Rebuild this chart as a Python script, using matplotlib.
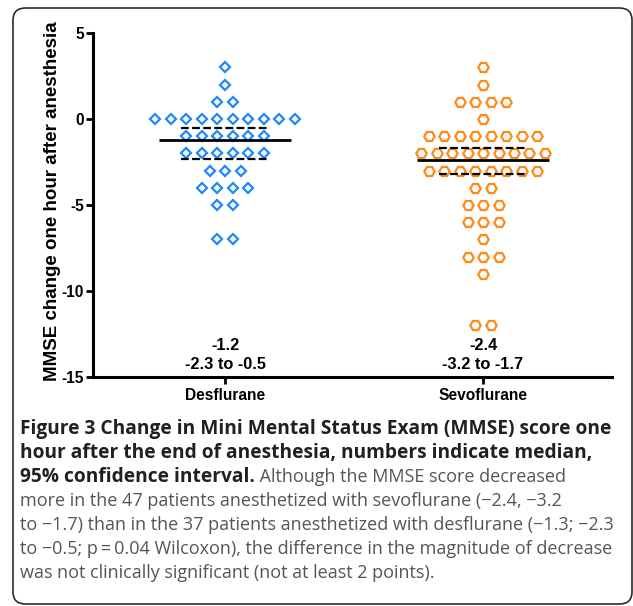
import numpy as np
import matplotlib
matplotlib.use('Agg')
import matplotlib.pyplot as plt
from matplotlib.patches import FancyBboxPatch

plt.rcParams['axes.unicode_minus'] = False
plt.rcParams['font.family'] = ['Liberation Sans', 'DejaVu Sans']

# MMSE change scores and how many patients had each score
groups = ['Desflurane', 'Sevoflurane']
des_scores = [3, 2, 1, 0, -1, -2, -3, -4, -5, -7]
des_counts = [1, 1, 2, 10, 6, 6, 3, 4, 2, 2]
sevo_scores = [3, 2, 1, 0, -1, -2, -3, -4, -5, -6, -7, -8, -9, -12]
sevo_counts = [1, 1, 4, 1, 8, 9, 8, 2, 3, 3, 1, 3, 1, 2]

# median and 95% CI
medians = [-1.2, -2.4]
ci_low = [-2.3, -3.2]
ci_high = [-0.5, -1.7]

W, H = 633, 606
fig = plt.figure(figsize=(W / 100, H / 100), dpi=100)

# rounded frame around figure + caption
frame = FancyBboxPatch((13 / W, 1 - 604 / H), (632 - 13) / W, (604 - 8) / H,
                       boxstyle='round,pad=0,rounding_size=0.02',
                       transform=fig.transFigure, fc='none', ec='#2b2b2b',
                       lw=1.2, zorder=0)
fig.patches.append(frame)

ax = fig.add_axes([93 / W, 1 - 377 / H, (612 - 93) / W, (377 - 33) / H])
ax.patch.set_alpha(0)

step = 0.06


def swarm(xc, scores, counts, marker, color, ms):
    for s, n in zip(scores, counts):
        xs = xc + (np.arange(n) - (n - 1) / 2) * step
        ax.plot(xs, [s] * n, linestyle='none', marker=marker, ms=ms,
                mfc='white', mec=color, mew=1.6, zorder=3)


swarm(1, des_scores, des_counts, 'D', '#1e88ff', 5.5)
swarm(2, sevo_scores, sevo_counts, 'H', '#ff8a17', 7.5)

for i in range(2):
    xc = i + 1
    ax.hlines(medians[i], xc - 0.255, xc + 0.255, colors='black', lw=2, zorder=4)
    for v in (ci_low[i], ci_high[i]):
        ax.hlines(v, xc - 0.17, xc + 0.17, colors='black', lw=1.6,
                  linestyles=(0, (3.5, 1.5)), zorder=4)
    ax.text(xc, -13.15, f'{medians[i]}', ha='center', va='center',
            fontsize=11.8, fontweight='bold')
    ax.text(xc, -14.3, f'{ci_low[i]} to {ci_high[i]}', ha='center', va='center',
            fontsize=11.8, fontweight='bold')

ax.set_xlim(0.488, 2.5)
ax.set_ylim(-15, 5)
ax.set_yticks([5, 0, -5, -10, -15])
ax.set_xticks([1, 2])
ax.set_xticklabels(groups)
for sp in ['top', 'right']:
    ax.spines[sp].set_visible(False)
for sp in ['left', 'bottom']:
    ax.spines[sp].set_linewidth(2.2)
ax.tick_params(width=2, length=5, labelsize=11.2)
ax.tick_params(axis='y', pad=1.5)
ax.tick_params(axis='x', pad=3)
for lab in ax.get_xticklabels() + ax.get_yticklabels():
    lab.set_fontweight('bold')
ax.set_ylabel('MMSE change one hour after anesthesia', fontsize=13.5,
              fontweight='bold')
ax.yaxis.set_label_coords((61 - 93) / 519, 0.51)

# caption
cap_font = ['Open Sans', 'DejaVu Sans']
bold_size = 13.8
norm_size = 13.0
x0 = 20 / W
dark = '#231f20'
grey = '#555557'
lines = [
    ('Figure 3 Change in Mini Mental Status Exam (MMSE) score one', ''),
    ('hour after the end of anesthesia, numbers indicate median,', ''),
    ('95% confidence interval.', ' Although the MMSE score decreased'),
    ('', 'more in the 47 patients anesthetized with sevoflurane (\u22122.4, \u22123.2'),
    ('', 'to \u22121.7) than in the 37 patients anesthetized with desflurane (\u22121.3; \u22122.3'),
    ('', 'to \u22120.5; p\u2009=\u20090.04 Wilcoxon), the difference in the magnitude of decrease'),
    ('', 'was not clinically significant (not at least 2 points).'),
]
y = 1 - 434 / H
for bold, normal in lines:
    if bold:
        t = fig.text(x0, y, bold, family=cap_font, fontsize=bold_size,
                     fontweight='bold', color=dark, va='baseline')
        if normal:
            fig.canvas.draw()
            fig.text(t.get_window_extent().x1 / W, y, normal, family=cap_font,
                     fontsize=norm_size, color=grey, va='baseline')
    else:
        fig.text(x0, y, normal, family=cap_font, fontsize=norm_size,
                 color=grey, va='baseline')
    y -= 24 / H

fig.savefig('out.png', dpi=100)
